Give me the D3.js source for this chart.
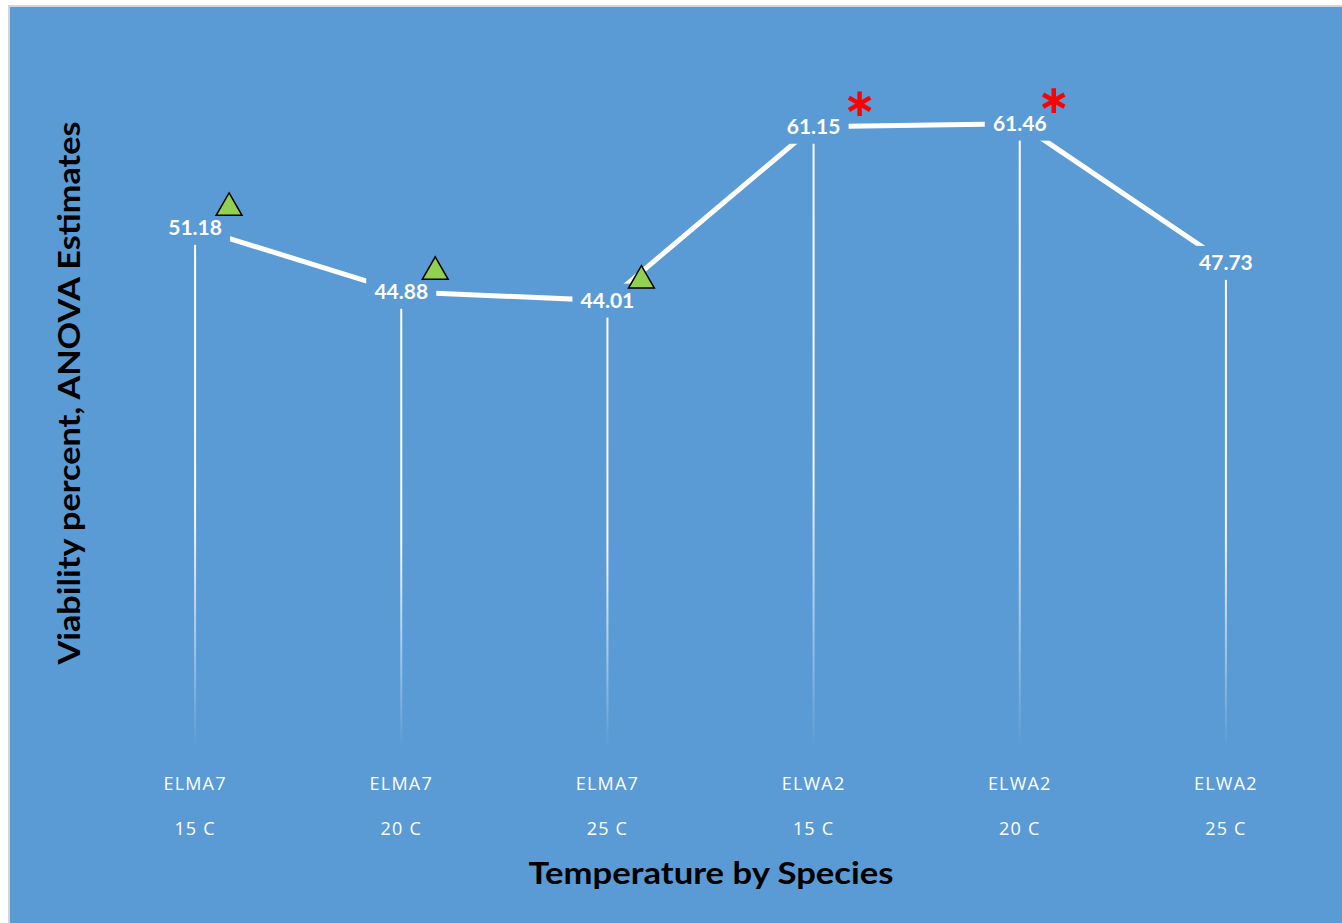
<!DOCTYPE html>
<html><head><meta charset="utf-8">
<script src="https://cdn.jsdelivr.net/npm/d3@7"></script>
<style>html,body{margin:0;padding:0;background:#fff;overflow:hidden}</style>
</head><body>
<svg id="c" width="1342" height="923"></svg>
<script>
const species = ["ELMA7","ELMA7","ELMA7","ELWA2","ELWA2","ELWA2"];
const temps = ["15 C","20 C","25 C","15 C","20 C","25 C"];
const values = [51.18, 44.88, 44.01, 61.15, 61.46, 47.73];
const marks = ["triangle","triangle","triangle","star","star","none"];
const yTitle = "Viability percent, ANOVA Estimates";
const xTitle = "Temperature by Species";

const W = 1342, H = 923, BG = "#5B9BD5";
const svg = d3.select("#c");
svg.append("rect").attr("x",8).attr("y",5).attr("width",W-8).attr("height",H-5).attr("fill","#d4d4d4");
svg.append("rect").attr("x",10).attr("y",7).attr("width",W-10).attr("height",H-7).attr("fill",BG);

const idx = d3.range(values.length);
const x = d3.scaleBand().domain(idx).range([92,1329]);
const y = d3.scaleLinear().domain([0,70]).range([747,37]);
const cx = i => x(i) + x.bandwidth()/2;

const defs = svg.append("defs");
idx.forEach(i=>{
  const g = defs.append("linearGradient").attr("id","g"+i).attr("gradientUnits","userSpaceOnUse")
    .attr("x1",0).attr("x2",0).attr("y1",y(values[i])).attr("y2",y(0));
  g.append("stop").attr("offset",0).attr("stop-color","#fff").attr("stop-opacity",1);
  g.append("stop").attr("offset",0.55).attr("stop-color","#fff").attr("stop-opacity",0.95);
  g.append("stop").attr("offset",1).attr("stop-color","#fff").attr("stop-opacity",0);
});

// drop lines
svg.append("g").selectAll("rect").data(idx).join("rect")
  .attr("x",i=>cx(i)-1).attr("width",2)
  .attr("y",i=>y(values[i])).attr("height",i=>y(0)-y(values[i]))
  .attr("fill",i=>`url(#g${i})`);

// main line
svg.append("path").datum(idx)
  .attr("d", d3.line().x(i=>cx(i)).y(i=>y(values[i])))
  .attr("fill","none").attr("stroke","#fff").attr("stroke-width",5);

// data labels
const lab = svg.append("g").selectAll("g").data(idx).join("g")
  .attr("transform",i=>`translate(${cx(i)},${y(values[i])})`);
lab.append("rect").attr("x",-35).attr("y",-17).attr("width",70).attr("height",34).attr("fill",BG);
lab.append("text").attr("text-anchor","middle").attr("dy","0.36em")
  .attr("font-family","Lato, 'Open Sans', sans-serif").attr("font-weight","bold")
  .attr("font-size",21).attr("fill","#fff").text(i=>values[i].toFixed(2));

// markers
const tri = d3.symbol().type(d3.symbolTriangle).size(290);
svg.append("g").selectAll("path").data(idx.filter(i=>marks[i]==="triangle")).join("path")
  .attr("d",tri)
  .attr("transform",i=>`translate(${cx(i)+34},${y(values[i])-20})`)
  .attr("fill","#92D050").attr("stroke","#000").attr("stroke-width",1.5);
const ast = d3.symbol().type(d3.symbolAsterisk).size(430);
svg.append("g").selectAll("path").data(idx.filter(i=>marks[i]==="star")).join("path")
  .attr("d",ast)
  .attr("transform",(i,k)=>`translate(${cx(i)+(k===0?46:34)},${y(values[i])-23})`)
  .attr("fill","none").attr("stroke","#FF0000").attr("stroke-width",4.5);

// x axis category labels
const cat = svg.append("g").selectAll("g").data(idx).join("g");
cat.append("text").attr("x",cx).attr("y",790).attr("text-anchor","middle")
  .attr("font-family","'Open Sans', sans-serif").attr("font-size",18).attr("letter-spacing",1.2)
  .attr("fill","#fff").text(i=>species[i]);
cat.append("text").attr("x",cx).attr("y",835).attr("text-anchor","middle")
  .attr("font-family","'Open Sans', sans-serif").attr("font-size",18).attr("letter-spacing",1.2)
  .attr("fill","#fff").text(i=>temps[i]);

// titles
svg.append("text").attr("x",711).attr("y",884).attr("text-anchor","middle")
  .attr("font-family","Lato, 'Open Sans', sans-serif").attr("font-weight","bold")
  .attr("font-size",30).attr("fill","#000")
  .attr("textLength",365).attr("lengthAdjust","spacingAndGlyphs").text(xTitle);
svg.append("text").attr("transform","translate(80,393) rotate(-90)").attr("text-anchor","middle")
  .attr("font-family","Lato, 'Open Sans', sans-serif").attr("font-weight","bold")
  .attr("font-size",30).attr("fill","#000")
  .attr("textLength",543).attr("lengthAdjust","spacingAndGlyphs").text(yTitle);
</script>
</body></html>
